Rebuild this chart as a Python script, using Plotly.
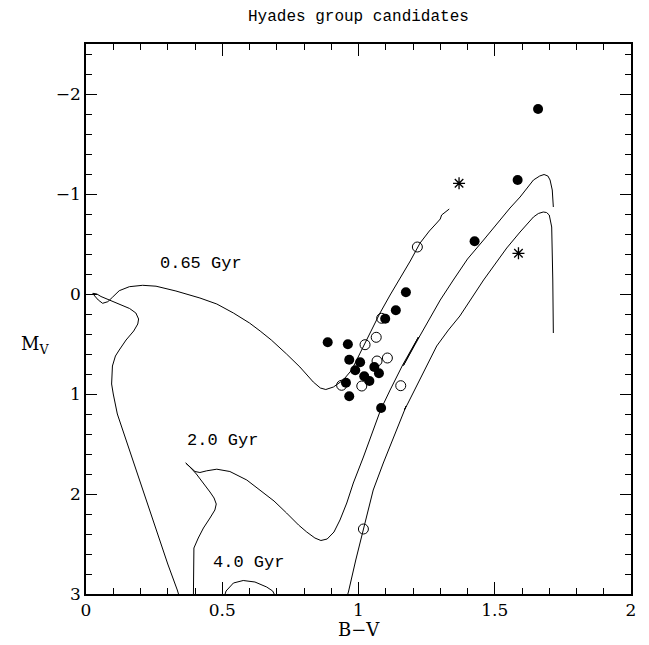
import plotly.graph_objects as go

# ---- data ----
filled_bv = [1.659, 1.584, 1.426, 1.174, 1.137, 1.098, 0.887, 0.961, 0.966, 1.006,
             0.988, 1.058, 1.075, 1.021, 1.040, 0.954, 0.966, 1.083]
filled_mv = [-1.85, -1.14, -0.527, -0.017, 0.163, 0.247, 0.483, 0.503, 0.657, 0.683,
             0.763, 0.73, 0.793, 0.823, 0.87, 0.887, 1.023, 1.14]

open_bv = [1.216, 1.085, 1.065, 1.024, 1.068, 1.106, 0.938, 1.012, 1.155, 1.018]
open_mv = [-0.47, 0.243, 0.433, 0.507, 0.67, 0.64, 0.913, 0.92, 0.917, 2.35]

star_bv = [1.369, 1.587]
star_mv = [-1.107, -0.407]

iso065_bv = [0.345, 0.335, 0.30, 0.27, 0.23, 0.186, 0.145, 0.115, 0.100, 0.094, 0.097, 0.108,
             0.122, 0.147, 0.175, 0.190, 0.193, 0.183, 0.160, 0.125, 0.098, 0.075, 0.055,
             0.040, 0.025, 0.032, 0.045, 0.061, 0.080, 0.098, 0.122, 0.159, 0.208, 0.257,
             0.330, 0.418, 0.480, 0.541, 0.600, 0.639, 0.680, 0.736, 0.785, 0.834, 0.860,
             0.880, 0.908, 0.944, 0.975, 1.006, 1.042, 1.079, 1.116, 1.152, 1.190, 1.226,
             1.260, 1.287, 1.300, 1.305, 1.333]
iso065_mv = [3.05, 2.96, 2.70, 2.46, 2.12, 1.79, 1.45, 1.20, 1.00, 0.90, 0.72, 0.62,
             0.56, 0.46, 0.37, 0.30, 0.25, 0.19, 0.145, 0.105, 0.077, 0.055, 0.025,
             0.0, -0.007, 0.02, 0.06, 0.093, 0.077, 0.03, -0.033, -0.073, -0.087, -0.078,
             -0.03, 0.04, 0.10, 0.19, 0.29, 0.37, 0.46, 0.60, 0.73, 0.88, 0.94,
             0.955, 0.93, 0.86, 0.76, 0.59, 0.39, 0.19, 0.01, -0.15, -0.33, -0.51,
             -0.63, -0.71, -0.75, -0.79, -0.85]

iso20_bv = [0.394, 0.395, 0.396, 0.412, 0.431, 0.455, 0.473, 0.478, 0.470, 0.455, 0.431,
            0.405, 0.385, 0.366, 0.385, 0.400, 0.418, 0.443, 0.480, 0.528, 0.590, 0.639,
            0.690, 0.736, 0.780, 0.810, 0.840, 0.862, 0.885, 0.910, 0.932, 0.957, 0.981,
            1.018, 1.054, 1.081, 1.116, 1.134, 1.162, 1.220, 1.165, 1.168, 1.225, 1.250,
            1.300, 1.348, 1.400, 1.459, 1.519, 1.556, 1.593, 1.617, 1.642, 1.665, 1.681,
            1.695, 1.703, 1.711, 1.714, 1.715]
iso20_mv = [3.05, 2.80, 2.54, 2.44, 2.34, 2.24, 2.16, 2.10, 2.04, 1.98, 1.89,
            1.80, 1.74, 1.69, 1.73, 1.775, 1.785, 1.768, 1.752, 1.775, 1.86, 1.96,
            2.07, 2.19, 2.31, 2.38, 2.44, 2.465, 2.45, 2.38, 2.26, 2.09, 1.89,
            1.63, 1.36, 1.16, 0.96, 0.86, 0.71, 0.43, 0.715, 0.70, 0.42, 0.30,
            0.06, -0.14, -0.35, -0.54, -0.74, -0.86, -0.97, -1.05, -1.14, -1.18, -1.195,
            -1.18, -1.14, -1.04, -0.95, -0.87]

iso40_to_bv = [0.505, 0.514, 0.541, 0.577, 0.620, 0.663, 0.685, 0.700]
iso40_to_mv = [3.05, 2.97, 2.89, 2.865, 2.88, 2.93, 2.97, 3.05]

iso40_rgb_bv = [0.955, 0.963, 0.990, 1.018, 1.054, 1.091, 1.128, 1.165, 1.175, 1.168, 1.180,
                1.202, 1.220, 1.250, 1.287, 1.330, 1.372, 1.459, 1.519, 1.544, 1.593, 1.617,
                1.642, 1.660, 1.678, 1.690, 1.700, 1.709, 1.712, 1.713, 1.715]
iso40_rgb_mv = [3.05, 2.98, 2.66, 2.35, 1.96, 1.69, 1.43, 1.19, 1.12, 1.16, 1.10,
                0.98, 0.88, 0.72, 0.52, 0.36, 0.22, -0.14, -0.36, -0.46, -0.62, -0.69,
                -0.77, -0.805, -0.82, -0.815, -0.79, -0.67, -0.41, -0.14, 0.39]

age_labels = ["0.65 Gyr", "2.0 Gyr", "4.0 Gyr"]
age_label_bv = [0.422, 0.50, 0.598]
age_label_mv = [-0.31, 1.46, 2.68]

# ---- figure ----
fig = go.Figure()
line_style = dict(color="black", width=1)
for xs, ys in [(iso065_bv, iso065_mv), (iso20_bv, iso20_mv),
               (iso40_to_bv, iso40_to_mv), (iso40_rgb_bv, iso40_rgb_mv)]:
    fig.add_trace(go.Scatter(x=xs, y=ys, mode="lines", line=line_style,
                             hoverinfo="skip", showlegend=False))

fig.add_trace(go.Scatter(x=open_bv, y=open_mv, mode="markers", showlegend=False,
                         marker=dict(symbol="circle-open", size=10, color="black",
                                     line=dict(width=1, color="black"))))
fig.add_trace(go.Scatter(x=filled_bv, y=filled_mv, mode="markers", showlegend=False,
                         marker=dict(symbol="circle", size=10, color="black",
                                     line=dict(width=0))))
fig.add_trace(go.Scatter(x=star_bv, y=star_mv, mode="markers", showlegend=False,
                         marker=dict(symbol="asterisk-open", size=10, color="black",
                                     line=dict(width=1.3, color="black"))))

for txt, xv, yv in zip(age_labels, age_label_bv, age_label_mv):
    fig.add_annotation(x=xv, y=yv, text=txt, showarrow=False,
                       xanchor="center", yanchor="middle",
                       font=dict(family="Liberation Mono", size=17, color="black"))

fig.add_annotation(xref="paper", yref="paper", x=0.5, y=1.049, text="Hyades group candidates",
                   showarrow=False, xanchor="center", yanchor="middle",
                   font=dict(family="Liberation Mono", size=16, color="black"))
fig.add_annotation(xref="paper", yref="paper", x=0.5, y=-0.064, text="B\u2212V",
                   showarrow=False, xanchor="center", yanchor="middle",
                   font=dict(family="DejaVu Serif", size=18, color="black"))
fig.add_annotation(xref="paper", yref="paper", x=-0.094, y=0.453, text="M<sub>V</sub>",
                   showarrow=False, xanchor="center", yanchor="middle",
                   font=dict(family="DejaVu Serif", size=18, color="black"))

axis_common = dict(showgrid=False, zeroline=False, showline=True, linecolor="black",
                   linewidth=1.6, mirror="allticks", ticks="inside", tickcolor="black",
                   tickwidth=1, tickfont=dict(family="DejaVu Serif", size=17, color="black"))
fig.update_xaxes(range=[0, 2], tickmode="linear", tick0=0, dtick=0.5, ticklen=12,
                 minor=dict(dtick=0.1, ticklen=6, ticks="inside", tickcolor="black", tickwidth=1),
                 **axis_common)
fig.update_yaxes(range=[3, -2.5], tickmode="linear", tick0=0, dtick=1, ticklen=11,
                 minor=dict(dtick=0.2, ticklen=6, ticks="inside", tickcolor="black", tickwidth=1),
                 **axis_common)

fig.update_layout(width=649, height=645, margin=dict(l=86, r=18, t=44, b=51),
                  plot_bgcolor="white", paper_bgcolor="white", showlegend=False)

fig.write_html("out.html")
